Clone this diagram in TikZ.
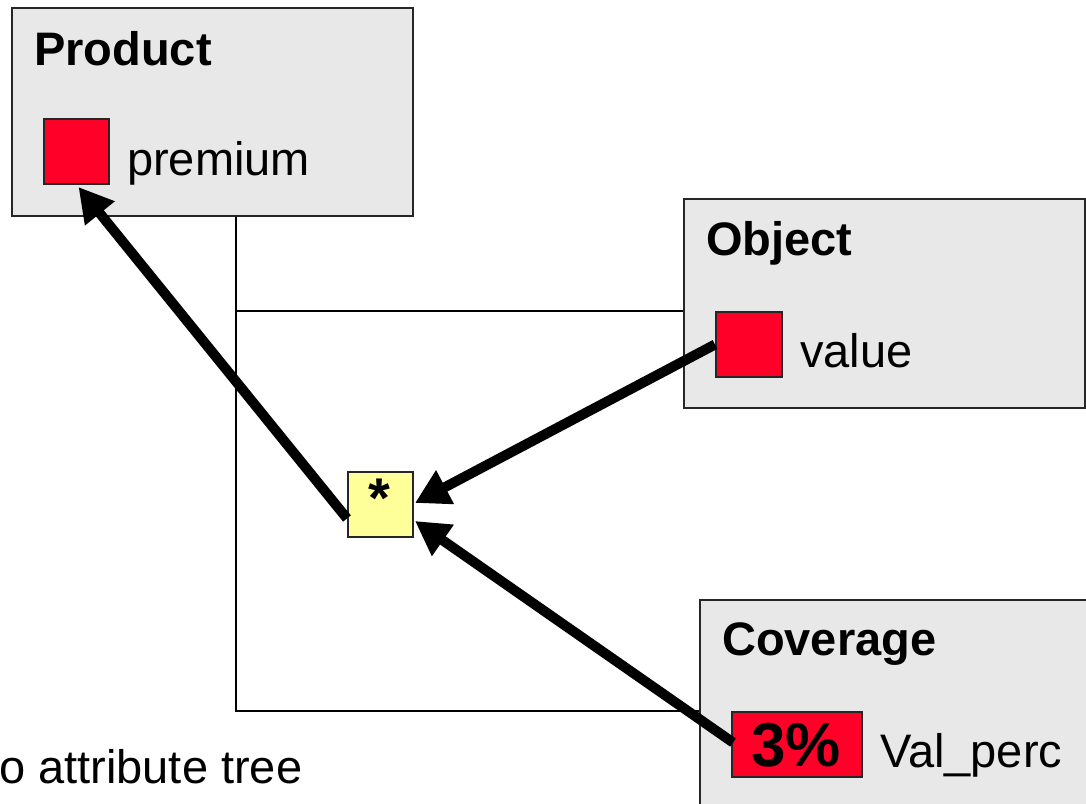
\documentclass[tikz,border=0pt]{standalone}
\usepackage{fontspec}
\setmainfont{Liberation Sans}
\usetikzlibrary{arrows.meta}
\definecolor{boxgray}{RGB}{232,232,232}
\definecolor{attrred}{RGB}{255,0,40}
\definecolor{opyellow}{RGB}{255,255,153}
\tikzset{
  entbox/.style={draw=black!85, line width=2pt, fill=boxgray, anchor=north west, inner sep=0pt},
  attrsq/.style={draw=black!85, line width=2pt, fill=attrred, anchor=north west, inner sep=0pt, minimum width=65pt, minimum height=65pt},
  opbox/.style={draw=black!85, line width=2pt, fill=opyellow, anchor=north west, inner sep=0pt, minimum width=65pt, minimum height=65pt},
  title/.style={anchor=base west, inner sep=0pt, font=\fontsize{47}{56}\selectfont\bfseries},
  lbl/.style={anchor=base west, inner sep=0pt, font=\fontsize{47}{56}\selectfont},
  tree/.style={draw=black, line width=1.6pt},
  arr/.style={draw=black, line width=10pt, -{Triangle[length=34pt,width=36pt]}}
}
\begin{document}
\begin{tikzpicture}[x=1pt,y=-1pt]
\useasboundingbox (0,0) rectangle (1086,803);
\clip (0,0) rectangle (1086,803);
% entity boxes
\node[entbox, minimum width=401pt, minimum height=208pt] (product) at (11,7) {};
\node[entbox, minimum width=401pt, minimum height=209pt] (obj) at (683,198) {};
\node[entbox, minimum width=420pt, minimum height=230pt] (cov) at (699,599) {};
% titles
\node[title] (ptitle) at (34,65) {Product};
\node[title] (otitle) at (706,255) {Object};
\node[title] (ctitle) at (722,655) {Coverage};
% attributes
\node[attrsq] (psq) at (43,118) {};
\node[lbl] (plbl) at (127,175) {premium};
\node[attrsq, minimum width=66pt] (vsq) at (715,311) {};
\node[lbl] (vlbl) at (800,367) {value};
\node[attrsq, minimum width=130pt] (pct) at (731,711) {};
\node[anchor=base, inner sep=0pt, font=\fontsize{62}{70}\selectfont\bfseries] (pcttxt) at (796,766) {3\%};
\node[lbl] (clbl) at (880,767) {Val\_perc};
% operator
\node[opbox] (star) at (347,471) {};
\node[anchor=base, inner sep=0pt, font=\fontsize{56}{64}\selectfont\bfseries] (startxt) at (379.5,517) {*};
% note
\node[lbl] (note) at (-1,783) {o attribute tree};
% tree lines
\coordinate (vx) at (236,0);
\draw[tree] (product.south -| vx) |- (pct.north -| cov.west);
\draw[tree] (vx |- vsq.north) -- (vsq.north -| obj.west);
% arrows
\draw[arr] ([yshift=-14pt]star.west) -- ([xshift=2pt,yshift=-2pt]psq.south);
\draw[arr] (vsq.west) -- ([xshift=1pt,yshift=1.5pt]star.east);
\draw[arr] ([xshift=2pt,yshift=2pt]pct.west) -- ([xshift=1pt,yshift=-16.5pt]star.east);
\end{tikzpicture}
\end{document}
